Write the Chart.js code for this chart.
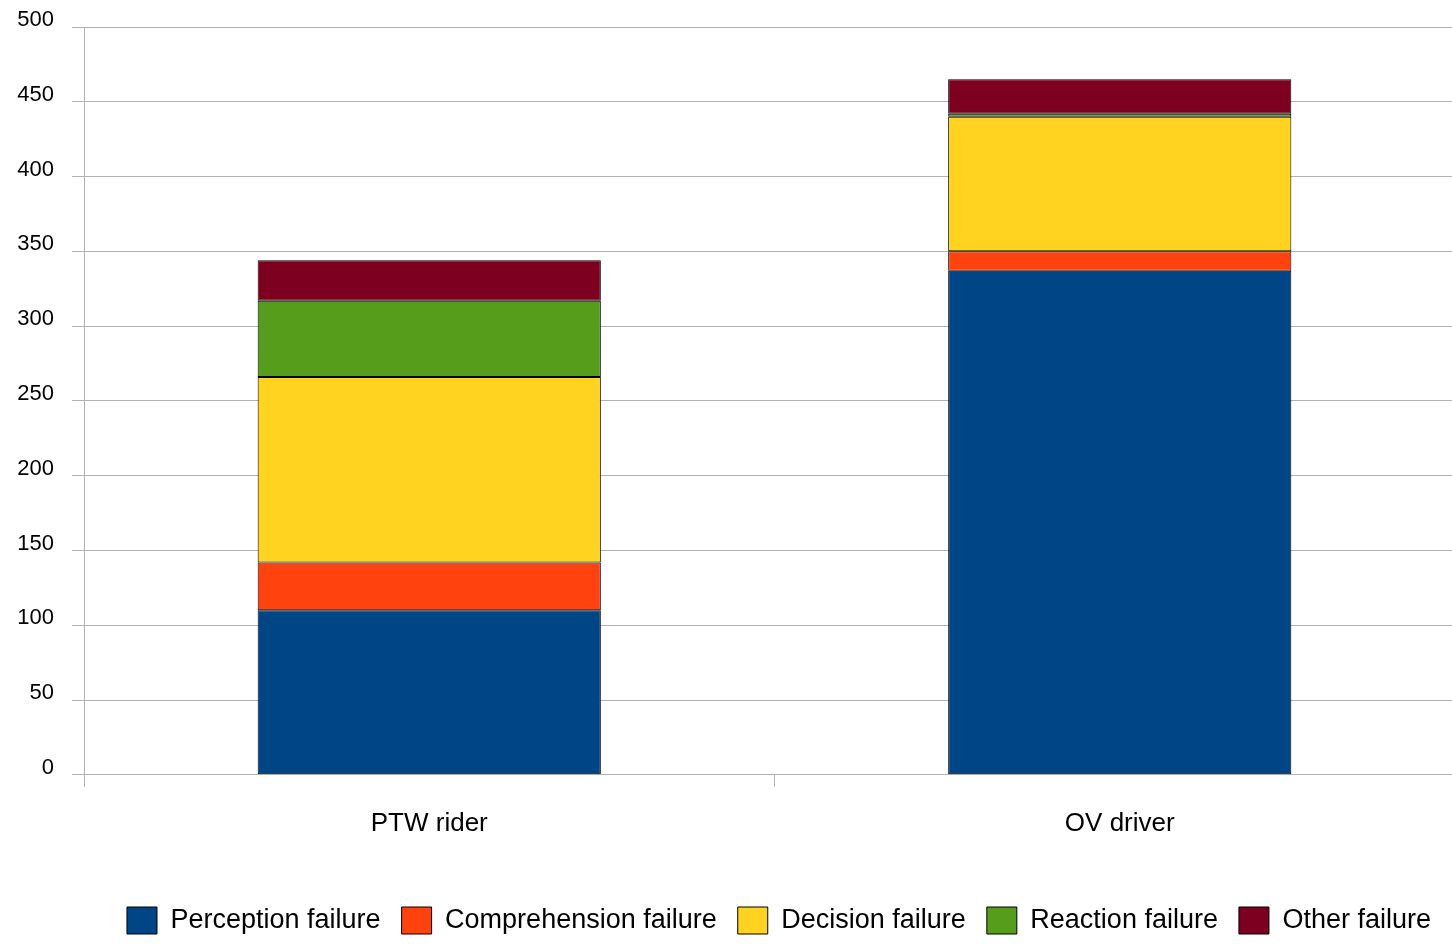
<!DOCTYPE html>
<html>
<head>
<meta charset="utf-8">
<script src="https://cdn.jsdelivr.net/npm/chart.js@4/dist/chart.umd.min.js"></script>
<style>
  html, body { margin: 0; padding: 0; background: #fff; }
  #wrap { width: 1452px; height: 944px; }
</style>
</head>
<body>
<div id="wrap"><canvas id="failChart"></canvas></div>
<script>
const categories = ['PTW rider', 'OV driver'];
const perception = [110, 337];
const comprehension = [32, 13];
const decision = [124, 90];
const reaction = [51, 2];
const other = [27, 23];

const gridColor = '#b3b3b3';
const font = 'Liberation Sans, Arial, sans-serif';

function series(label, data, color) {
    return {
        label: label,
        data: data,
        backgroundColor: color,
        borderColor: '#000',
        borderWidth: 1,
        borderSkipped: false,
        categoryPercentage: 1,
        barPercentage: 0.497
    };
}

// the original plot runs a little past the right edge of the picture
const overhang = {
    id: 'overhang',
    afterLayout(chart) {
        const x = chart.scales.x;
        x.right += 13;
        x.width += 13;
        x.configure();
        chart.chartArea.right += 13;
        chart.chartArea.width += 13;
    }
};

new Chart(document.getElementById('failChart').getContext('2d'), {
    type: 'bar',
    data: {
        labels: categories,
        datasets: [
            series('Perception failure', perception, '#004586'),
            series('Comprehension failure', comprehension, '#ff420e'),
            series('Decision failure', decision, '#ffd320'),
            series('Reaction failure', reaction, '#579d1c'),
            series('Other failure', other, '#7e0021')
        ]
    },
    plugins: [overhang],
    options: {
        responsive: true,
        maintainAspectRatio: false,
        animation: false,
        layout: { padding: { top: 27, right: 0, left: 0, bottom: 0 } },
        plugins: {
            tooltip: { enabled: false },
            legend: {
                position: 'bottom',
                align: 'end',
                labels: {
                    boxWidth: 30,
                    boxHeight: 27,
                    padding: 21,
                    color: '#000',
                    font: { family: font, size: 27 }
                }
            }
        },
        scales: {
            x: {
                stacked: true,
                grid: { offset: true, drawOnChartArea: false, tickLength: 12, color: gridColor },
                border: { display: false },
                ticks: { color: '#000', font: { family: font, size: 26 }, padding: 21 },
                afterFit: function (scale) { scale.height += 26; }
            },
            y: {
                stacked: true,
                min: 0,
                max: 500,
                grid: { color: gridColor, tickLength: 12 },
                border: { display: true, color: gridColor },
                ticks: { stepSize: 50, color: '#000', font: { family: font, size: 22 }, padding: 18, labelOffset: -7 },
                afterFit: function (scale) { scale.width = 84; scale.paddingTop = 0; }
            }
        }
    }
});
</script>
</body>
</html>
